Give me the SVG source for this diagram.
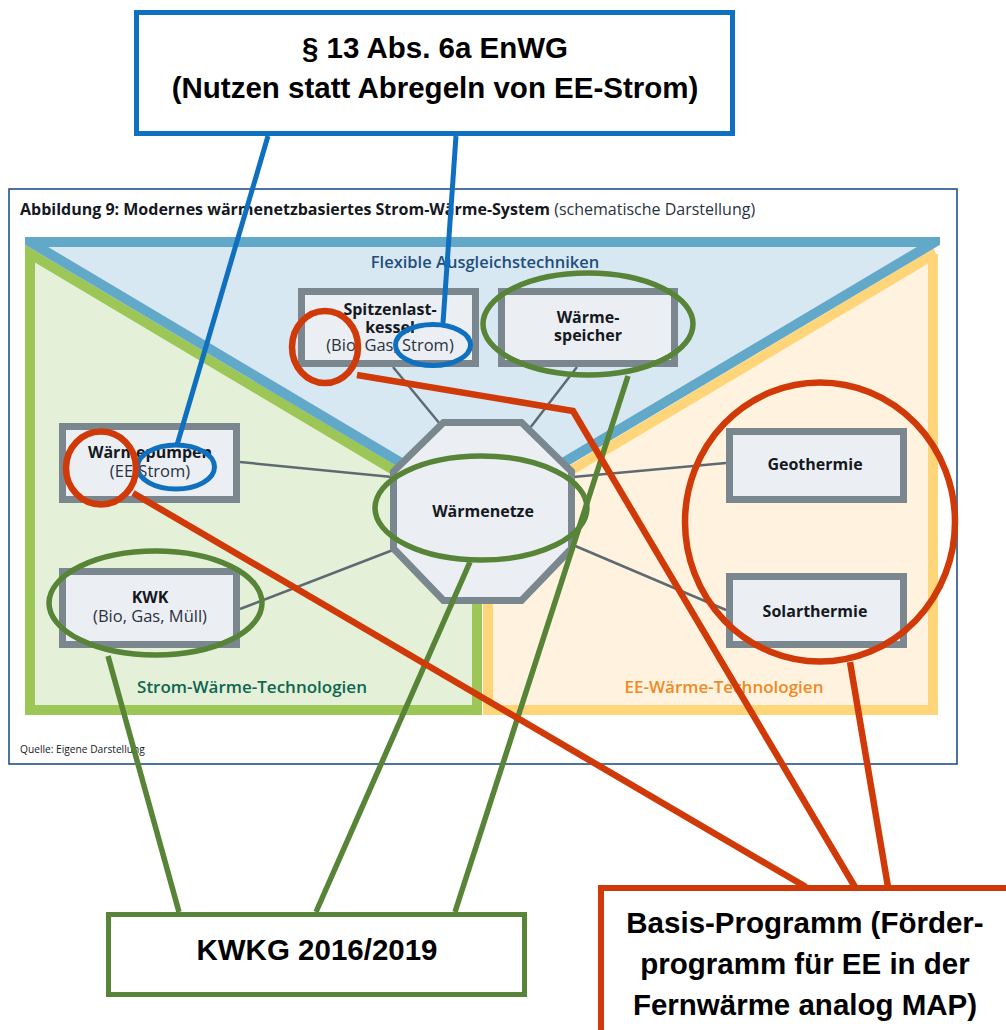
<svg xmlns="http://www.w3.org/2000/svg" width="1006" height="1030" viewBox="0 0 1006 1030">
<style>
.fig{font-family:"Open Sans","Noto Sans","DejaVu Sans",sans-serif;fill:#15191f}
.nb{font-weight:700;font-size:16px;text-anchor:middle}
.nr{font-weight:400;font-size:16.5px;text-anchor:middle;fill:#2a3240}
.node{fill:#ebeff3;stroke:#7b878f;stroke-width:7}
.conn{stroke:#5e6a72;stroke-width:2.5;fill:none}
.ann{font-family:"Liberation Sans",Arial,sans-serif;font-weight:700;font-size:29.5px;text-anchor:middle;fill:#000}
.bl{stroke:#1070c0;fill:none;stroke-width:5}
.rd{stroke:#d03a08;fill:none;stroke-width:6.5}
.gr{stroke:#578437;fill:none;stroke-width:5.5}
</style>
<defs>
<clipPath id="area"><rect x="25" y="237" width="915" height="479"/></clipPath>
</defs>
<rect width="1006" height="1030" fill="#fff"/>
<g id="figure-frame">
<rect x="9" y="189" width="948" height="575" fill="#fff" stroke="#23508a" stroke-width="1.6"/>
<text class="fig" x="20" y="215" font-size="16"><tspan font-weight="700">Abbildung 9: Modernes wärmenetzbasiertes Strom-Wärme-System</tspan><tspan font-weight="400" fill="#2a3240"> (schematische Darstellung)</tspan></text>
<text class="fig" x="20" y="753" font-size="10.2" fill="#1f2a44">Quelle: Eigene Darstellung</text>
</g>
<g id="regions" clip-path="url(#area)">
<polygon points="30,253.6 477,519.6 477,710 30,710" fill="#e5f0d8" stroke="#9cc655" stroke-width="10"/>
<polygon points="935,253.6 488,519.6 488,710 933,710 933,254" fill="#fff3df" stroke="#ffd57a" stroke-width="10"/>
<polygon points="30,242 935,242 482,511" fill="#d8e8f2" stroke="#62a8c8" stroke-width="10"/>
</g>
<g id="region-labels" font-family="'Open Sans','Noto Sans',sans-serif" font-weight="600" text-anchor="middle">
<text x="485" y="268" font-size="16.5" fill="#1e4f7c">Flexible Ausgleichstechniken</text>
<text x="252" y="693" font-size="17" fill="#0e6650">Strom-Wärme-Technologien</text>
<text x="724" y="693" font-size="17" fill="#f08a24">EE-Wärme-Technologien</text>
</g>
<g id="connectors">
<line class="conn" x1="393" y1="367" x2="440" y2="424"/>
<line class="conn" x1="577" y1="367" x2="530" y2="428"/>
<line class="conn" x1="240" y1="462" x2="392" y2="477"/>
<line class="conn" x1="240" y1="609" x2="393" y2="550"/>
<line class="conn" x1="726" y1="463" x2="573" y2="477"/>
<line class="conn" x1="726" y1="610" x2="573" y2="545"/>
</g>
<g id="node-spitzenlastkessel">
<rect class="node" x="301.5" y="291.5" width="174" height="72"/>
<text class="fig nb" x="390" y="314.5">Spitzenlast-</text>
<text class="fig nb" x="390" y="332.5">kessel</text>
<text class="fig nr" x="390" y="350.5">(Bio, Gas, Strom)</text>
</g>
<g id="node-waermespeicher">
<rect class="node" x="501.5" y="291.5" width="173" height="72"/>
<text class="fig nb" x="588" y="322.5">Wärme-</text>
<text class="fig nb" x="588" y="340.5">speicher</text>
</g>
<g id="node-waermepumpen">
<rect class="node" x="62.5" y="426.5" width="174" height="73"/>
<text class="fig nb" x="150" y="458">Wärmepumpen</text>
<text class="fig nr" x="150" y="477">(EE-Strom)</text>
</g>
<g id="node-kwk">
<rect class="node" x="62.5" y="571.5" width="174" height="73"/>
<text class="fig nb" x="150" y="603">KWK</text>
<text class="fig nr" x="150" y="622">(Bio, Gas, Müll)</text>
</g>
<g id="node-geothermie">
<rect class="node" x="729.5" y="431.5" width="174" height="68"/>
<text class="fig nb" x="815" y="470">Geothermie</text>
</g>
<g id="node-solarthermie">
<rect class="node" x="729.5" y="576.5" width="174" height="68"/>
<text class="fig nb" x="815" y="617">Solarthermie</text>
</g>
<g id="node-waermenetze">
<polygon class="node" points="443.5,422.5 521.5,422.5 571.5,471.5 571.5,548.5 521.5,600.5 443.5,600.5 393.5,548.5 393.5,471.5"/>
<text class="fig nb" x="483" y="517">Wärmenetze</text>
</g>
<g id="annotation-connectors">
<line class="gr" x1="108" y1="656" x2="179" y2="912"/>
<line class="gr" x1="470" y1="562" x2="316" y2="912"/>
<line class="gr" x1="628" y1="376" x2="455" y2="912"/>
<line class="bl" x1="268" y1="136" x2="177" y2="445"/>
<line class="bl" x1="456" y1="136" x2="443" y2="323"/>
<polyline class="rd" points="357,375 573,411 855,887"/>
<line class="rd" x1="133" y1="493" x2="806" y2="887"/>
<line class="rd" x1="850" y1="662" x2="888" y2="887"/>
</g>
<g id="highlight-green">
<ellipse class="gr" cx="588" cy="324" rx="105" ry="51"/>
<ellipse class="gr" cx="481" cy="508" rx="106" ry="52"/>
<ellipse class="gr" cx="155.5" cy="603" rx="106.5" ry="52"/>
</g>
<g id="highlight-blue">
<ellipse class="bl" cx="176" cy="467" rx="38.5" ry="22"/>
<ellipse class="bl" cx="433" cy="345" rx="37.5" ry="20.5"/>
</g>
<g id="highlight-red">
<ellipse class="rd" cx="325" cy="347" rx="33" ry="36"/>
<ellipse class="rd" cx="101" cy="468" rx="35" ry="36.5"/>
<ellipse class="rd" cx="820" cy="522" rx="135" ry="139.5"/>
</g>
<g id="box-enwg">
<rect x="136.5" y="12.5" width="596" height="121" fill="#fff" stroke="#1070c0" stroke-width="5"/>
<text class="ann" x="435" y="58">§ 13 Abs. 6a EnWG</text>
<text class="ann" x="435" y="98">(Nutzen statt Abregeln von EE-Strom)</text>
</g>
<g id="box-kwkg">
<rect x="108.5" y="914.5" width="416" height="80" fill="#fff" stroke="#578437" stroke-width="5"/>
<text class="ann" x="317" y="960">KWKG 2016/2019</text>
</g>
<g id="box-basis">
<rect x="601" y="888" width="420" height="160" fill="#fff" stroke="#d03a08" stroke-width="6"/>
<text class="ann" x="805" y="933">Basis-Programm (Förder-</text>
<text class="ann" x="805" y="974">programm für EE in der</text>
<text class="ann" x="805" y="1015">Fernwärme analog MAP)</text>
</g>
</svg>
